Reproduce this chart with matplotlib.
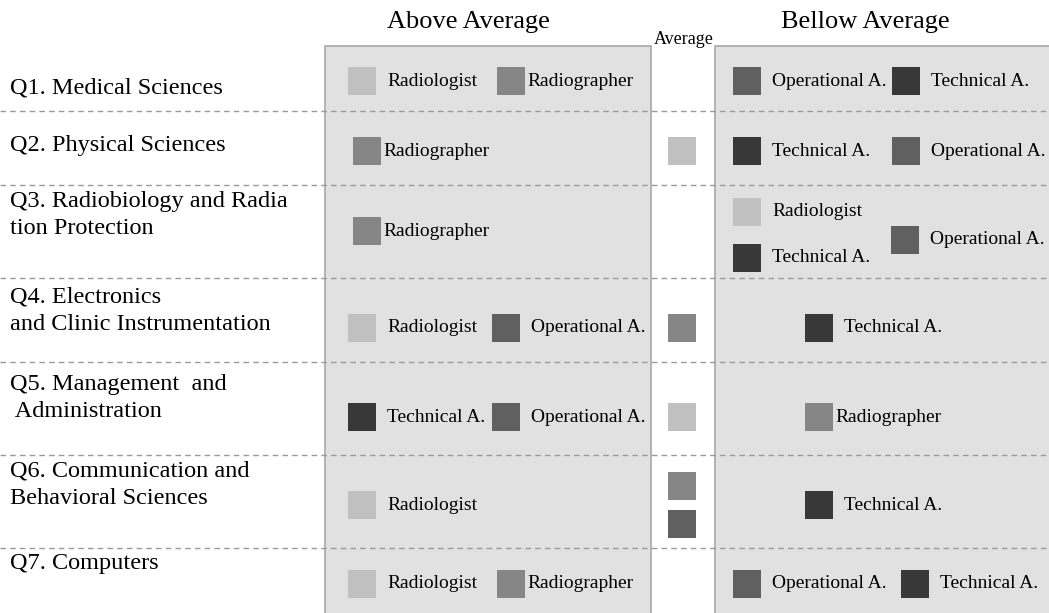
import matplotlib
matplotlib.use("Agg")
import matplotlib.pyplot as plt
import matplotlib.patches as mpatches

# ── Data ─────────────────────────────────────────────────────────
questions = [
    "Q1. Medical Sciences",
    "Q2. Physical Sciences",
    "Q3. Radiobiology and Radia\ntion Protection",
    "Q4. Electronics\nand Clinic Instrumentation",
    "Q5. Management  and\n Administration",
    "Q6. Communication and\nBehavioral Sciences",
    "Q7. Computers",
]
above = [
    ["Radiologist", "Radiographer"],
    ["Radiographer"],
    ["Radiographer"],
    ["Radiologist", "Operational A."],
    ["Technical A.", "Operational A."],
    ["Radiologist"],
    ["Radiologist", "Radiographer"],
]
average = [
    [],
    ["Radiologist"],
    [],
    ["Radiographer"],
    ["Radiologist"],
    ["Radiographer", "Operational A."],
    [],
]
below = [
    ["Operational A.", "Technical A."],
    ["Technical A.", "Operational A."],
    ["Radiologist", "Technical A.", "Operational A."],
    ["Technical A."],
    ["Radiographer"],
    ["Technical A."],
    ["Operational A.", "Technical A."],
]

# ── Style ────────────────────────────────────────────────────────
COLORS = {
    "Radiologist": "#c0c0c0",
    "Radiographer": "#868686",
    "Operational A.": "#606060",
    "Technical A.": "#383838",
}
PANEL_BG = "#e1e1e1"
EDGE = "#a8a8a8"
FONT = "Liberation Serif"
W, H = 1049, 613
SQ = 28
ITEM_FS = 14

# layout (pixels)
row_edges = [46, 111, 185, 278, 362, 455, 548, 613]
row_y = [81, 151, 231, 328, 417, 505, 584]
q_y = [88, 145, 215, 311, 398, 485, 563]
LEFT = (325, 651)
RIGHT = (715, W)
left_slots = [348, 492]
right_slots = [733, 892]


def label_gap(name):
    return 2 if name == "Radiographer" else 11


fig = plt.figure(figsize=(W / 100, H / 100), dpi=100)
ax = fig.add_axes([0, 0, 1, 1])
ax.set_xlim(0, W)
ax.set_ylim(H, 0)
ax.axis("off")

# panels
ax.add_patch(mpatches.Rectangle((LEFT[0], row_edges[0]), LEFT[1] - LEFT[0], H - row_edges[0] + 5,
                                facecolor=PANEL_BG, edgecolor=EDGE, linewidth=1.2, zorder=1))
ax.add_patch(mpatches.Rectangle((RIGHT[0], row_edges[0]), RIGHT[1] - RIGHT[0] + 5, H - row_edges[0] + 5,
                                facecolor=PANEL_BG, edgecolor=EDGE, linewidth=1.2, zorder=1))

# headings
ax.text(468, 22, "Above Average", fontsize=19, family=FONT, ha="center", va="center")
ax.text(865, 22, "Bellow Average", fontsize=19, family=FONT, ha="center", va="center")
ax.text(684, 39, "Average", fontsize=13, family=FONT, ha="center", va="center")

# row dividers
for y in row_edges[1:-1]:
    ax.plot([0, W], [y, y], color="#9a9a9a", linestyle=(0, (4, 3)), linewidth=1, zorder=2)

# question labels
for q, y in zip(questions, q_y):
    ax.text(10, y, q, fontsize=17.5, family=FONT, ha="left", va="center", linespacing=1.4)


def item(x, y, name):
    ax.add_patch(mpatches.Rectangle((x, y - SQ / 2), SQ, SQ, facecolor=COLORS[name],
                                    edgecolor="none", zorder=3))
    ax.text(x + SQ + label_gap(name), y, name, fontsize=ITEM_FS, family=FONT,
            ha="left", va="center", zorder=4)


for i in range(len(questions)):
    y = row_y[i]
    # above average
    items = above[i]
    if len(items) == 1:
        item(left_slots[0] + (5 if items[0] == "Radiographer" else 0), y, items[0])
    else:
        for x, name in zip(left_slots, items):
            item(x + (5 if name == "Radiographer" else 0), y, name)
    # average
    avg = average[i]
    for k, name in enumerate(avg):
        off = (k - (len(avg) - 1) / 2) * 38
        ax.add_patch(mpatches.Rectangle((668, y + off - SQ / 2), SQ, SQ,
                                        facecolor=COLORS[name], edgecolor="none", zorder=3))
    # below average
    items = below[i]
    if len(items) == 1:
        item(805, y, items[0])
    elif len(items) == 2:
        for k, name in enumerate(items):
            shift = 9 if (k == 1 and items[0] == "Operational A." and i == len(questions) - 1) else 0
            item(right_slots[k] + shift, y, name)
    else:
        item(right_slots[0], y - 19, items[0])
        item(right_slots[0], y + 27, items[1])
        item(right_slots[1] - 1, y + 9, items[2])

fig.savefig("out.png", dpi=100, facecolor="white")
